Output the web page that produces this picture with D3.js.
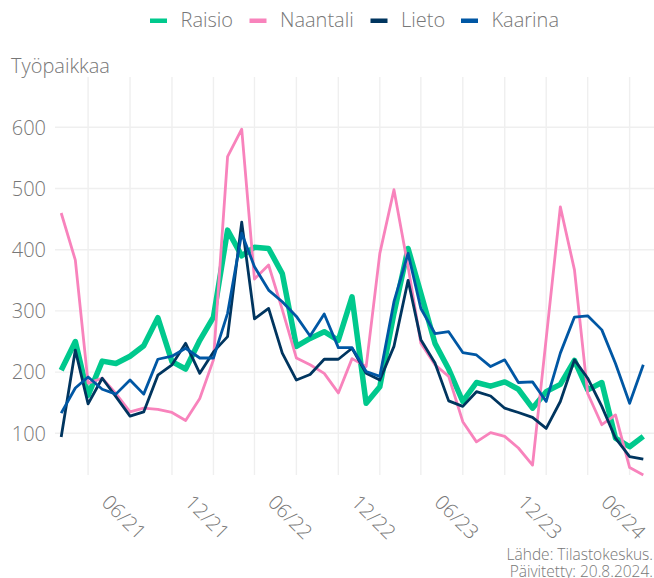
<!DOCTYPE html>
<html>
<head>
<meta charset="utf-8">
<script src="https://cdn.jsdelivr.net/npm/d3@7"></script>
<style>
  html, body { margin: 0; padding: 0; background: #fff; }
  svg { display: block; }
  text { font-family: "Open Sans", "Lato", sans-serif; font-weight: 300; fill: #777; }
</style>
</head>
<body>
<svg id="chart" width="654" height="578"></svg>
<script>
// ---- data ----
const months = [
  "2021-01","2021-02","2021-03","2021-04","2021-05","2021-06","2021-07","2021-08","2021-09","2021-10","2021-11","2021-12",
  "2022-01","2022-02","2022-03","2022-04","2022-05","2022-06","2022-07","2022-08","2022-09","2022-10","2022-11","2022-12",
  "2023-01","2023-02","2023-03","2023-04","2023-05","2023-06","2023-07","2023-08","2023-09","2023-10","2023-11","2023-12",
  "2024-01","2024-02","2024-03","2024-04","2024-05","2024-06","2024-07"
];
const seriesNames = ["Raisio", "Naantali", "Lieto", "Kaarina"];
const raisio = [203,250,162,218,214,226,243,289,217,205,252,290,432,390,404,402,361,242,255,266,252,323,149,176,296,402,329,247,205,152,183,177,184,172,141,168,180,219,171,183,92,78,95];
const naantali = [460,383,182,190,165,135,141,139,134,121,157,220,552,597,352,375,302,223,212,198,166,222,209,394,498,372,247,212,193,119,86,101,95,76,48,255,470,367,165,114,130,44,32];
const lieto = [94,236,148,190,160,128,135,195,212,247,198,233,258,445,287,304,231,187,196,221,221,239,198,187,242,350,253,215,153,144,168,161,141,134,126,108,152,220,190,144,92,62,58];
const kaarina = [133,174,192,172,164,187,164,221,226,239,223,223,296,427,372,334,315,291,259,295,240,240,201,193,315,394,304,263,266,232,228,209,220,183,184,152,231,290,292,269,214,149,212];
const yTicks = [100, 200, 300, 400, 500, 600];
const labelTicks = ["2021-06","2021-12","2022-06","2022-12","2023-06","2023-12","2024-06"];
const minorTicks = ["2021-03","2021-09","2022-03","2022-09","2023-03","2023-09","2024-03"];
const colors = ["#00C98D", "#F883BC", "#00355F", "#0057A4"];
const widths = [5.5, 2.8, 2.8, 2.8];

// ---- chart ----
const parse = d3.timeParse("%Y-%m");
const fmt = d3.timeFormat("%m/%y");
const svg = d3.select("#chart");

const x = d3.scaleTime()
  .domain([parse("2021-01"), parse("2024-07")])
  .range([61.2, 643.3]);
const y = d3.scaleLinear().domain([100, 600]).range([433.3, 127.3]);

const panel = { left: 55, right: 654, top: 77, bottom: 475 };

// horizontal gridlines
svg.append("g")
  .selectAll("line")
  .data(yTicks)
  .join("line")
  .attr("x1", panel.left).attr("x2", panel.right)
  .attr("y1", d => y(d)).attr("y2", d => y(d))
  .attr("stroke", "#efefef").attr("stroke-width", 1.4);

// vertical gridlines
svg.append("g")
  .selectAll("line")
  .data(labelTicks.concat(minorTicks).map(parse))
  .join("line")
  .attr("x1", d => x(d)).attr("x2", d => x(d))
  .attr("y1", panel.top).attr("y2", panel.bottom)
  .attr("stroke", "#efefef").attr("stroke-width", 1.4);

// y tick labels
svg.append("g")
  .selectAll("text")
  .data(yTicks)
  .join("text")
  .attr("x", 46)
  .attr("y", d => y(d))
  .attr("dy", "0.36em")
  .attr("text-anchor", "end")
  .style("font-size", "20px")
  .text(d => d);

// x tick labels (rotated)
svg.append("g")
  .selectAll("text")
  .data(labelTicks.map(parse))
  .join("text")
  .attr("transform", d => `translate(${x(d) - 6},517) rotate(45)`)
  .attr("text-anchor", "middle")
  .attr("dy", "0.36em")
  .style("font-size", "20px")
  .text(d => fmt(d));

// lines
const allSeries = [raisio, naantali, lieto, kaarina];
const line = d3.line()
  .x((d, i) => x(parse(months[i])))
  .y(d => y(d));

svg.append("g")
  .selectAll("path")
  .data(allSeries)
  .join("path")
  .attr("d", d => line(d))
  .attr("fill", "none")
  .attr("stroke", (d, i) => colors[i])
  .attr("stroke-width", (d, i) => widths[i])
  .attr("stroke-linejoin", "round")
  .attr("stroke-linecap", "butt");

// title
svg.append("text")
  .attr("x", 11).attr("y", 73)
  .style("font-size", "20px")
  .text("Työpaikkaa");

// legend
const legendX = [150, 249.5, 370.5, 461];
const lg = svg.append("g");
seriesNames.forEach((name, i) => {
  lg.append("rect")
    .attr("x", legendX[i]).attr("y", 18.5)
    .attr("width", 17).attr("height", 4.5)
    .attr("fill", colors[i]);
  lg.append("text")
    .attr("x", legendX[i] + 30.5).attr("y", 27)
    .style("font-size", "20px")
    .text(name);
});

// footer
svg.append("text")
  .attr("x", 653).attr("y", 560)
  .attr("text-anchor", "end")
  .style("font-size", "15.5px")
  .text("Lähde: Tilastokeskus.");
svg.append("text")
  .attr("x", 653).attr("y", 577)
  .attr("text-anchor", "end")
  .style("font-size", "15.5px")
  .text("Päivitetty: 20.8.2024.");
</script>
</body>
</html>
